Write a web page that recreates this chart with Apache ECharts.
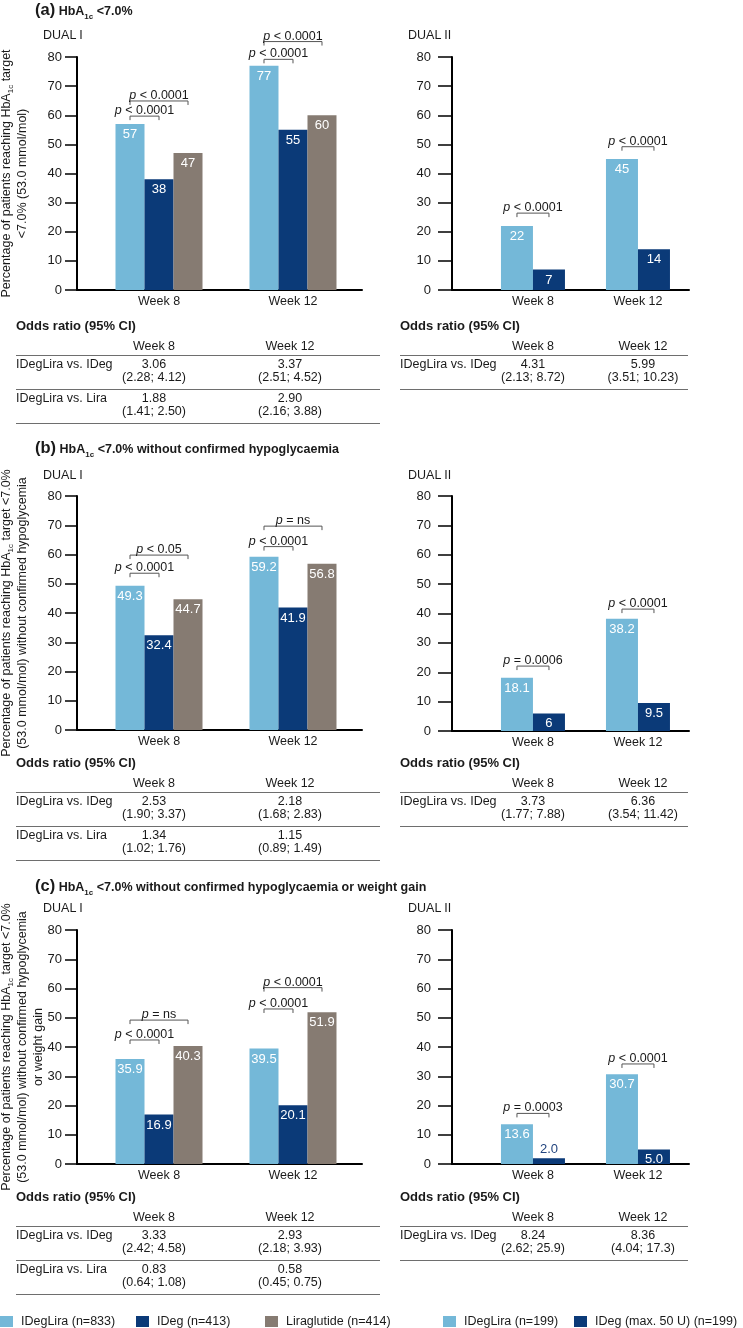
<!DOCTYPE html>
<html>
<head>
<meta charset="utf-8" />
<title>HbA1c target</title>
<script src="https://cdn.jsdelivr.net/npm/echarts@6.0.0/dist/echarts.min.js"></script>
<style>
	body { margin: 0; background: #fff; }
	#page { position: relative; width: 743px; height: 1328px; overflow: hidden;
		font-family: "Liberation Sans", Arial, sans-serif; color: #1a1a1a; }
	#chart { position: absolute; left: 0; top: 0; width: 743px; height: 1328px; }
	.txt { position: absolute; white-space: nowrap; line-height: 14px; font-size: 12.5px; }
	.c { transform: translateX(-50%); }
	.b { font-weight: bold; font-size: 13px; }
	.rule { position: absolute; height: 0; border-top: 1.5px solid #6e6e6e; }
	.head { position: absolute; white-space: nowrap; font-weight: bold; font-size: 12.5px; line-height: 18px; }
	.head .tag { font-size: 16.5px; }
	.head sub { font-size: 8px; }
</style>
</head>
<body>
<div id="page">
	<div id="chart"></div>
	<div id="overlay"></div>
</div>

<script type="text/javascript">

	/******************* data ******************/
	const weeks = ['Week 8', 'Week 12'];
	const dual1Names = ['IDegLira (n=833)', 'IDeg (n=413)', 'Liraglutide (n=414)'];
	const dual2Names = ['IDegLira (n=199)', 'IDeg (max. 50 U) (n=199)'];

	// (a) HbA1c <7.0%
	const a1_idegLira = ['57', '77'];
	const a1_ideg = ['38', '55'];
	const a1_lira = ['47', '60'];
	const a2_idegLira = ['22', '45'];
	const a2_ideg = ['7', '14'];

	// (b) ... without confirmed hypoglycaemia
	const b1_idegLira = ['49.3', '59.2'];
	const b1_ideg = ['32.4', '41.9'];
	const b1_lira = ['44.7', '56.8'];
	const b2_idegLira = ['18.1', '38.2'];
	const b2_ideg = ['6', '9.5'];

	// (c) ... or weight gain
	const c1_idegLira = ['35.9', '39.5'];
	const c1_ideg = ['16.9', '20.1'];
	const c1_lira = ['40.3', '51.9'];
	const c2_idegLira = ['13.6', '30.7'];
	const c2_ideg = ['2.0', '5.0'];

	// p-value brackets: [week index, from bar, to bar, level (%), text]
	const a1_pvals = [[0, 0, 1, 59.7, 'p < 0.0001'], [0, 0, 2, 64.9, 'p < 0.0001'],
		[1, 0, 1, 79.2, 'p < 0.0001'], [1, 0, 2, 85.3, 'p < 0.0001']];
	const a2_pvals = [[0, 0, 1, 26.4, 'p < 0.0001'], [1, 0, 1, 49.2, 'p < 0.0001']];
	const b1_pvals = [[0, 0, 1, 53.6, 'p < 0.0001'], [0, 0, 2, 59.8, 'p < 0.05'],
		[1, 0, 1, 62.7, 'p < 0.0001'], [1, 0, 2, 69.7, 'p = ns']];
	const b2_pvals = [[0, 0, 1, 22.1, 'p = 0.0006'], [1, 0, 1, 41.5, 'p < 0.0001']];
	const c1_pvals = [[0, 0, 1, 42.4, 'p < 0.0001'], [0, 0, 2, 49.2, 'p = ns'],
		[1, 0, 1, 53.0, 'p < 0.0001'], [1, 0, 2, 60.3, 'p < 0.0001']];
	const c2_pvals = [[0, 0, 1, 17.3, 'p = 0.0003'], [1, 0, 1, 34.2, 'p < 0.0001']];

	// odds ratio tables: [comparison, week 8, CI, week 12, CI]
	const a1_odds = [['IDegLira vs. IDeg', '3.06', '(2.28; 4.12)', '3.37', '(2.51; 4.52)'],
		['IDegLira vs. Lira', '1.88', '(1.41; 2.50)', '2.90', '(2.16; 3.88)']];
	const a2_odds = [['IDegLira vs. IDeg', '4.31', '(2.13; 8.72)', '5.99', '(3.51; 10.23)']];
	const b1_odds = [['IDegLira vs. IDeg', '2.53', '(1.90; 3.37)', '2.18', '(1.68; 2.83)'],
		['IDegLira vs. Lira', '1.34', '(1.02; 1.76)', '1.15', '(0.89; 1.49)']];
	const b2_odds = [['IDegLira vs. IDeg', '3.73', '(1.77; 7.88)', '6.36', '(3.54; 11.42)']];
	const c1_odds = [['IDegLira vs. IDeg', '3.33', '(2.42; 4.58)', '2.93', '(2.18; 3.93)'],
		['IDegLira vs. Lira', '0.83', '(0.64; 1.08)', '0.58', '(0.45; 0.75)']];
	const c2_odds = [['IDegLira vs. IDeg', '8.24', '(2.62; 25.9)', '8.36', '(4.04; 17.3)']];

	/******************* layout ******************/
	const FONT = '"Liberation Sans", Arial, sans-serif';
	const INK = '#1a1a1a';
	const colors = ['#74b8d8', '#0b3a78', '#867b72'];

	// left (DUAL I) and right (DUAL II) plot geometry
	const sides = [
		{ left: 77, width: 285, min: 0.388, max: 2.515, barW: 29, names: dual1Names, tick: 12, margin: 15 },
		{ left: 452, width: 237, min: 0.229, max: 2.486, barW: 32, names: dual2Names, tick: 14, margin: 21 }
	];

	const yNameA = '{t|Percentage of patients reaching HbA}{s|1c}{t| target}\n{t|<7.0% (53.0 mmol/mol)}';
	const yNameB = '{t|Percentage of patients reaching HbA}{s|1c}{t| target <7.0%}\n{t|(53.0 mmol/mol) without confirmed hypoglycemia}';
	const yNameC = yNameB + '\n{t|or weight gain}';

	const panels = [
		{ side: 0, top: 57, height: 233, bars: [a1_idegLira, a1_ideg, a1_lira], pv: a1_pvals, yName: yNameA, gap: 46 },
		{ side: 1, top: 57, height: 233, bars: [a2_idegLira, a2_ideg], pv: a2_pvals },
		{ side: 0, top: 496, height: 234, bars: [b1_idegLira, b1_ideg, b1_lira], pv: b1_pvals, yName: yNameB, gap: 46 },
		{ side: 1, top: 496, height: 235, bars: [b2_idegLira, b2_ideg], pv: b2_pvals },
		{ side: 0, top: 930, height: 234, bars: [c1_idegLira, c1_ideg, c1_lira], pv: c1_pvals, yName: yNameC, gap: 30 },
		{ side: 1, top: 930, height: 234, bars: [c2_idegLira, c2_ideg], pv: c2_pvals }
	];

	/******************* chart ******************/
	const grid = [], xAxis = [], yAxis = [], series = [];

	panels.forEach(function (p, k) {
		const s = sides[p.side];
		grid.push({ left: s.left, top: p.top, width: s.width, height: p.height, outerBoundsMode: 'none' });

		xAxis.push({
			type: 'value', gridIndex: k, min: s.min, max: s.max,
			splitLine: { show: false },
			axisLine: { show: true, onZero: false, lineStyle: { color: '#000', width: 2 } },
			axisTick: { show: false },
			axisLabel: {
				customValues: [1, 2], margin: 5, fontSize: 12.5, color: INK,
				formatter: function (v) { return weeks[Math.round(v) - 1] || ''; }
			}
		});

		yAxis.push({
			type: 'value', gridIndex: k, min: 0, max: 80, interval: 10,
			splitLine: { show: false },
			axisLine: { show: true, lineStyle: { color: '#000', width: 2 } },
			axisTick: { show: true, length: s.tick, lineStyle: { color: '#000', width: 1.5 } },
			axisLabel: { fontSize: 13, color: INK, margin: s.margin },
			name: p.yName || '',
			nameLocation: 'middle', nameRotate: 90, nameGap: p.gap || 0, nameMoveOverlap: false,
			nameTextStyle: {
				color: INK, fontSize: 12.5, lineHeight: 16,
				rich: {
					t: { fontSize: 12.5, lineHeight: 16, color: INK, fontFamily: FONT },
					s: { fontSize: 8, lineHeight: 8, verticalAlign: 'bottom', color: INK, fontFamily: FONT }
				}
			}
		});

		p.bars.forEach(function (vals, j) {
			series.push({
				type: 'bar', name: s.names[j], xAxisIndex: k, yAxisIndex: k,
				barWidth: s.barW, barGap: '0%',
				itemStyle: { color: colors[j] },
				label: {
					show: true, position: 'insideTop', distance: 4, color: '#fff', fontSize: 13,
					formatter: function (q) { return vals[q.dataIndex]; }
				},
				data: vals.map(function (v, i) {
					const item = { value: [i + 1, Number(v)] };
					if (Number(v) < 4) item.label = { position: 'top', distance: 2, color: '#23457f' };
					return item;
				})
			});
		});

		// significance brackets
		const n = p.bars.length;
		series.push({
			type: 'custom', xAxisIndex: k, yAxisIndex: k, clip: false, silent: true, z: 5,
			data: p.pv.map(function (b) { return [b[0] + 1, b[3]]; }),
			renderItem: function (params, api) {
				const b = p.pv[params.dataIndex];
				const pt = api.coord([b[0] + 1, b[3]]);
				const x1 = pt[0] + (b[1] - (n - 1) / 2) * s.barW;
				const x2 = pt[0] + (b[2] - (n - 1) / 2) * s.barW;
				const y = pt[1];
				return {
					type: 'group',
					children: [
						{
							type: 'polyline',
							shape: { points: [[x1, y + 4], [x1, y], [x2, y], [x2, y + 4]] },
							style: { stroke: '#555', lineWidth: 1, fill: null }
						},
						{
							type: 'text',
							style: {
								x: (x1 + x2) / 2, y: y + 1, align: 'center', verticalAlign: 'bottom',
								text: b[4].replace(/^p/, '{i|p}'),
								fontSize: 12.5, fontFamily: FONT, fill: INK,
								rich: { i: { fontStyle: 'italic', fontSize: 12.5, fontFamily: FONT, color: INK } }
							}
						}
					]
				};
			}
		});
	});

	const legendBase = {
		icon: 'rect', itemWidth: 13, itemHeight: 11, itemGap: 0, padding: 0, top: 1315,
		selectedMode: false, textStyle: { fontSize: 12.5, color: INK, padding: [0, 0, 0, 3] }
	};
	const legend = [
		[dual1Names[0], 0], [dual1Names[1], 136], [dual1Names[2], 265],
		[dual2Names[0], 443], [dual2Names[1], 574]
	].map(function (d) { return Object.assign({}, legendBase, { data: [d[0]], left: d[1] }); });

	const myChart = echarts.init(document.getElementById('chart'), null, { renderer: 'canvas' });
	myChart.setOption({
		animation: false,
		textStyle: { fontFamily: FONT },
		grid: grid, xAxis: xAxis, yAxis: yAxis, legend: legend, series: series
	});

	/******************* text overlay ******************/
	const overlay = document.getElementById('overlay');

	function put(html, x, y, cls) {
		const d = document.createElement('div');
		d.className = 'txt ' + (cls || '');
		d.innerHTML = html;
		d.style.left = x + 'px';
		d.style.top = (y - 7) + 'px';
		overlay.appendChild(d);
	}

	function rule(x1, x2, y) {
		const d = document.createElement('div');
		d.className = 'rule';
		d.style.left = x1 + 'px';
		d.style.width = (x2 - x1) + 'px';
		d.style.top = y + 'px';
		overlay.appendChild(d);
	}

	function heading(tag, html, y) {
		const d = document.createElement('div');
		d.className = 'head';
		d.innerHTML = '<span class="tag">' + tag + '</span> ' + html;
		d.style.left = '35px';
		d.style.top = (y - 9) + 'px';
		overlay.appendChild(d);
	}

	function oddsTable(rows, x, x2, c1, c2, top) {
		put('Odds ratio (95% CI)', x, top, 'b');
		put(weeks[0], c1, top + 19.5, 'c');
		put(weeks[1], c2, top + 19.5, 'c');
		rule(x, x2, top + 29);
		rows.forEach(function (r, i) {
			const base = top + 29 + i * 34;
			put(r[0], x, base + 9);
			put(r[1], c1, base + 9, 'c');
			put(r[2], c1, base + 22, 'c');
			put(r[3], c2, base + 9, 'c');
			put(r[4], c2, base + 22, 'c');
			rule(x, x2, base + 34);
		});
	}

	heading('(a)', 'HbA<sub>1c</sub> &lt;7.0%', 9);
	heading('(b)', 'HbA<sub>1c</sub> &lt;7.0% without confirmed hypoglycaemia', 447);
	heading('(c)', 'HbA<sub>1c</sub> &lt;7.0% without confirmed hypoglycaemia or weight gain', 885);

	[35, 475, 908].forEach(function (y) {
		put('DUAL I', 43, y);
		put('DUAL II', 408, y);
	});

	oddsTable(a1_odds, 16, 380, 154, 290, 326);
	oddsTable(a2_odds, 400, 688, 533, 643, 326);
	oddsTable(b1_odds, 16, 380, 154, 290, 763);
	oddsTable(b2_odds, 400, 688, 533, 643, 763);
	oddsTable(c1_odds, 16, 380, 154, 290, 1197);
	oddsTable(c2_odds, 400, 688, 533, 643, 1197);

	window.addEventListener('resize', myChart.resize);
</script>
</body>
</html>
